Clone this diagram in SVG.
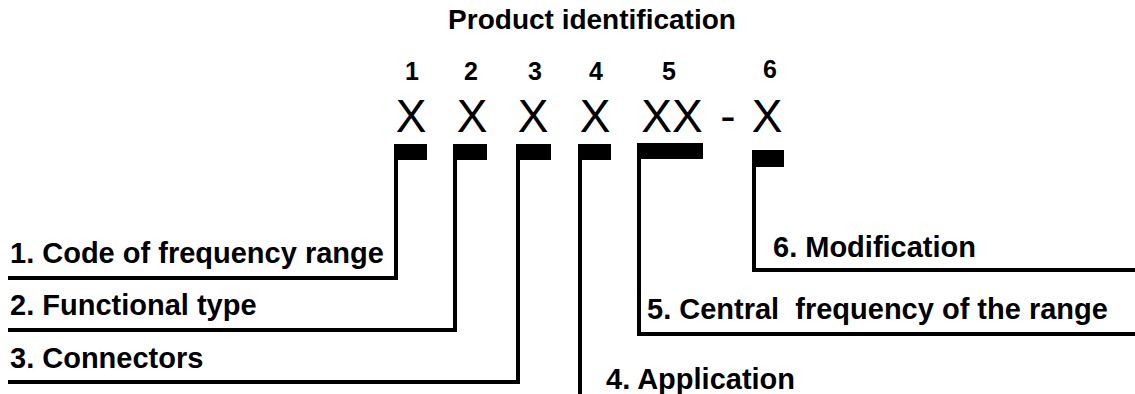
<svg xmlns="http://www.w3.org/2000/svg" width="1135" height="394" viewBox="0 0 1135 394">
  <style>
    .title { font-family: "Liberation Sans", Arial, sans-serif; font-weight: bold; font-size: 28px; fill: #000; }
    .num { font-family: "Liberation Sans", Arial, sans-serif; font-weight: bold; font-size: 25px; fill: #000; }
    .code { font-family: "Liberation Sans", Arial, sans-serif; font-size: 46px; fill: #000; }
    .label { font-family: "Liberation Sans", Arial, sans-serif; font-weight: bold; font-size: 29px; fill: #000; }
    .lead { fill: none; stroke: #000; stroke-width: 4; stroke-linejoin: miter; }
    .tab { fill: #000; }
  </style>
  <rect width="1135" height="394" fill="#fff"/>

  <text class="title" x="592" y="29" text-anchor="middle">Product identification</text>

  <!-- position numbers -->
  <g id="digits">
    <text class="num" x="412" y="80" text-anchor="middle">1</text>
    <text class="num" x="471" y="80" text-anchor="middle">2</text>
    <text class="num" x="535" y="80" text-anchor="middle">3</text>
    <text class="num" x="596" y="80" text-anchor="middle">4</text>
    <text class="num" x="669" y="80" text-anchor="middle">5</text>
    <text class="num" x="770" y="78" text-anchor="middle">6</text>
  </g>

  <!-- code pattern -->
  <g id="pattern">
    <text class="code" x="411" y="132" text-anchor="middle">X</text>
    <text class="code" x="472" y="132" text-anchor="middle">X</text>
    <text class="code" x="533" y="132" text-anchor="middle">X</text>
    <text class="code" x="595" y="132" text-anchor="middle">X</text>
    <text class="code" x="672" y="132" text-anchor="middle">XX</text>
    <text class="code" x="728" y="132" text-anchor="middle">-</text>
    <text class="code" x="767" y="132" text-anchor="middle">X</text>
  </g>

  <!-- leader lines from each code position to its label -->
  <g id="connectors">
    <path class="lead" d="M8,278 H396 V150"/>
    <path class="lead" d="M8,330 H455 V150"/>
    <path class="lead" d="M8,382 H518 V150"/>
    <path class="lead" d="M580,394 V150"/>
    <path class="lead" d="M1135,334 H639 V150"/>
    <path class="lead" d="M1135,270 H754 V156"/>
  </g>

  <g id="node-1">
    <rect class="tab" x="394" y="144" width="33" height="16"/>
    <text class="label" x="10" y="263">1. Code of frequency range</text>
  </g>
  <g id="node-2">
    <rect class="tab" x="453" y="144" width="34" height="16"/>
    <text class="label" x="10" y="315">2. Functional type</text>
  </g>
  <g id="node-3">
    <rect class="tab" x="516" y="144" width="35" height="16"/>
    <text class="label" x="10" y="368">3. Connectors</text>
  </g>
  <g id="node-4">
    <rect class="tab" x="578" y="144" width="33" height="16"/>
    <text class="label" x="606" y="389">4. Application</text>
  </g>
  <g id="node-5">
    <rect class="tab" x="637" y="143" width="66" height="16"/>
    <text class="label" x="647" y="319" xml:space="preserve">5. Central  frequency of the range</text>
  </g>
  <g id="node-6">
    <rect class="tab" x="752" y="150" width="32" height="17"/>
    <text class="label" x="773" y="257">6. Modification</text>
  </g>
</svg>
